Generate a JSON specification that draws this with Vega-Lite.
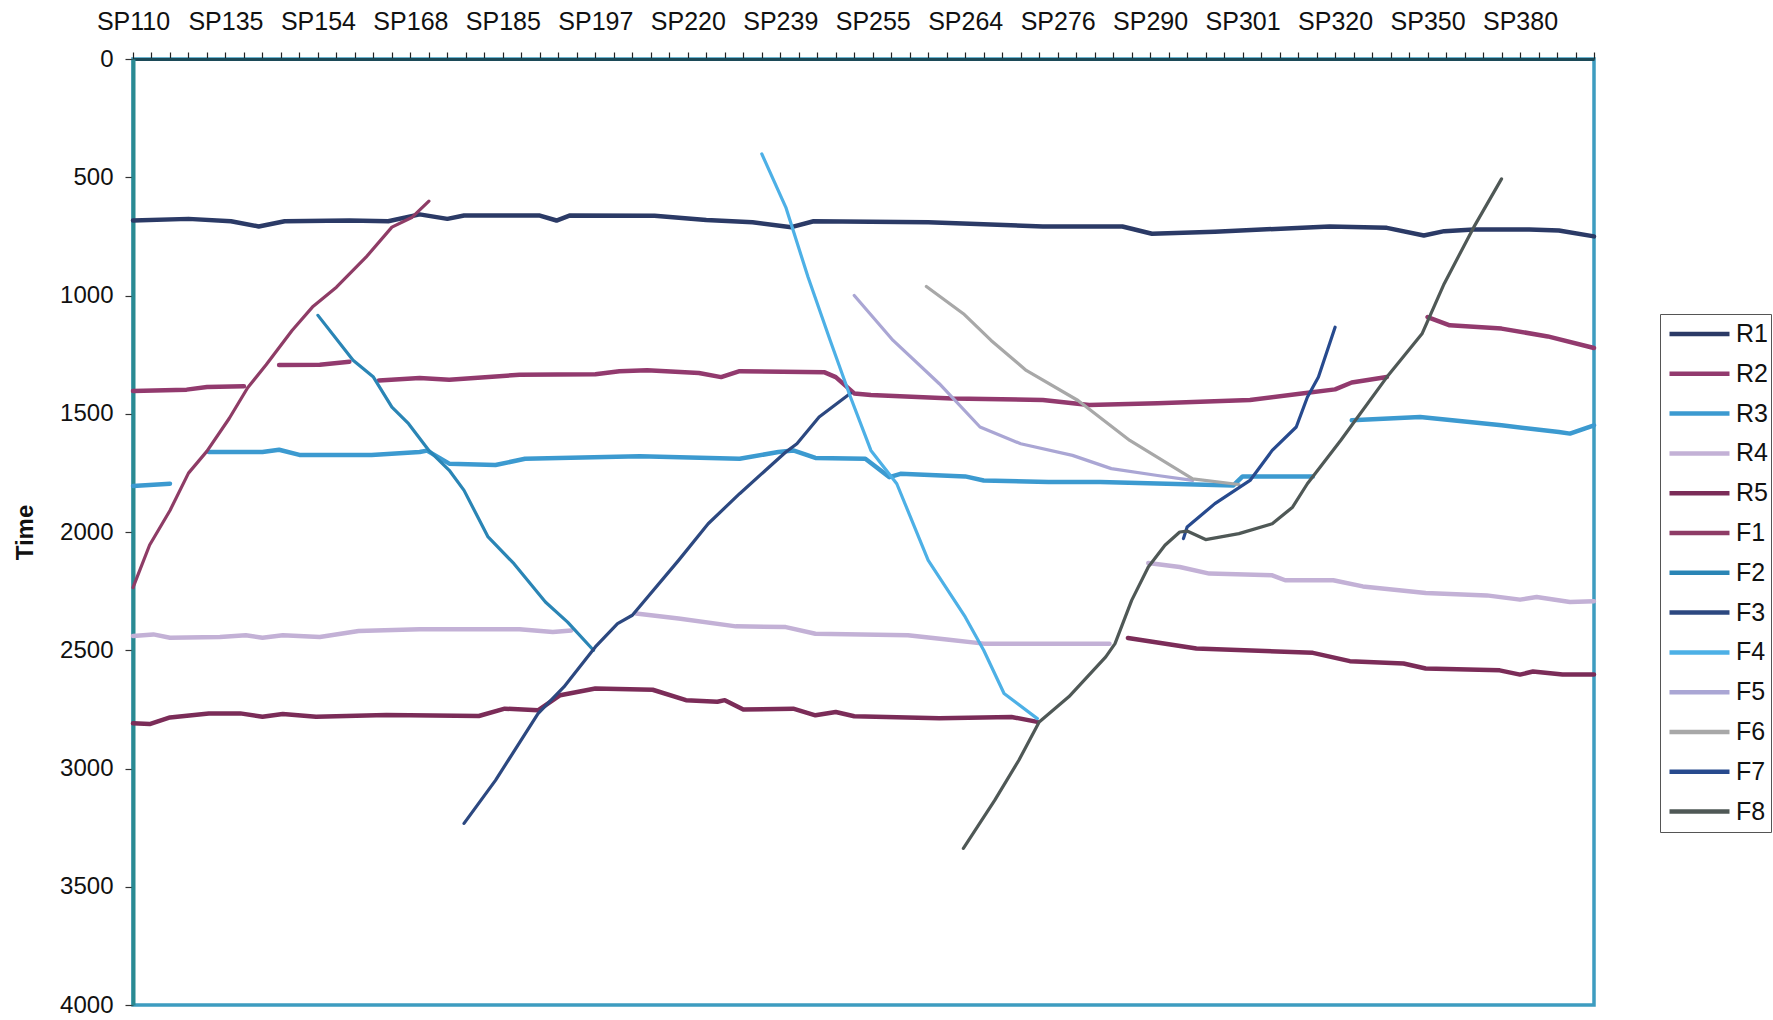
{
  "$schema": "https://vega.github.io/schema/vega-lite/v6.json",
  "width": 1461,
  "height": 946,
  "autosize": {"type": "none"},
  "padding": {"left": 133, "top": 59, "right": 179, "bottom": 15},
  "background": "white",
  "config": {
    "view": {"stroke": "#3d9cc0", "strokeWidth": 3.5},
    "font": "Liberation Sans"
  },
  "data": {"values": [
    {"s":"R1","g":0,"i":0,"t":683},{"s":"R1","g":0,"i":3.0,"t":676},{"s":"R1","g":0,"i":5.3,"t":686},{"s":"R1","g":0,"i":6.8,"t":708},{"s":"R1","g":0,"i":8.2,"t":686},{"s":"R1","g":0,"i":11.7,"t":683},{"s":"R1","g":0,"i":13.8,"t":686},{"s":"R1","g":0,"i":15.5,"t":657},{"s":"R1","g":0,"i":17.0,"t":676},{"s":"R1","g":0,"i":17.9,"t":662},{"s":"R1","g":0,"i":22.0,"t":662},{"s":"R1","g":0,"i":22.9,"t":683},{"s":"R1","g":0,"i":23.6,"t":662},{"s":"R1","g":0,"i":28.2,"t":663},{"s":"R1","g":0,"i":31.0,"t":681},{"s":"R1","g":0,"i":33.5,"t":690},{"s":"R1","g":0,"i":35.6,"t":711},{"s":"R1","g":0,"i":36.8,"t":686},{"s":"R1","g":0,"i":43.0,"t":690},{"s":"R1","g":0,"i":49.2,"t":708},{"s":"R1","g":0,"i":53.5,"t":708},{"s":"R1","g":0,"i":55.1,"t":739},{"s":"R1","g":0,"i":58.5,"t":730},{"s":"R1","g":0,"i":64.7,"t":708},{"s":"R1","g":0,"i":67.8,"t":714},{"s":"R1","g":0,"i":69.8,"t":746},{"s":"R1","g":0,"i":70.9,"t":728},{"s":"R1","g":0,"i":72.5,"t":721},{"s":"R1","g":0,"i":75.5,"t":721},{"s":"R1","g":0,"i":77.1,"t":725},{"s":"R1","g":0,"i":79,"t":750},

    {"s":"R2","g":0,"i":0,"t":1404},{"s":"R2","g":0,"i":2.9,"t":1398},{"s":"R2","g":0,"i":4.0,"t":1387},{"s":"R2","g":0,"i":6.0,"t":1384},
    {"s":"R2","g":1,"i":7.9,"t":1294},{"s":"R2","g":1,"i":10.1,"t":1293},{"s":"R2","g":1,"i":11.7,"t":1280},
    {"s":"R2","g":2,"i":13.3,"t":1359},{"s":"R2","g":2,"i":15.5,"t":1349},{"s":"R2","g":2,"i":17.1,"t":1356},{"s":"R2","g":2,"i":20.9,"t":1335},{"s":"R2","g":2,"i":25.0,"t":1333},{"s":"R2","g":2,"i":26.3,"t":1320},{"s":"R2","g":2,"i":27.8,"t":1316},{"s":"R2","g":2,"i":30.6,"t":1328},{"s":"R2","g":2,"i":31.8,"t":1345},{"s":"R2","g":2,"i":32.8,"t":1320},{"s":"R2","g":2,"i":37.4,"t":1325},{"s":"R2","g":2,"i":38.0,"t":1345},{"s":"R2","g":2,"i":39.0,"t":1414},{"s":"R2","g":2,"i":39.9,"t":1421},{"s":"R2","g":2,"i":44.3,"t":1435},{"s":"R2","g":2,"i":49.2,"t":1442},{"s":"R2","g":2,"i":51.7,"t":1463},{"s":"R2","g":2,"i":55.4,"t":1456},{"s":"R2","g":2,"i":60.4,"t":1442},{"s":"R2","g":2,"i":63.2,"t":1414},{"s":"R2","g":2,"i":65.0,"t":1397},{"s":"R2","g":2,"i":65.9,"t":1368},{"s":"R2","g":2,"i":67.8,"t":1345},
    {"s":"R2","g":3,"i":70.0,"t":1091},{"s":"R2","g":3,"i":71.2,"t":1126},{"s":"R2","g":3,"i":74.0,"t":1140},{"s":"R2","g":3,"i":76.5,"t":1173},{"s":"R2","g":3,"i":79,"t":1222},

    {"s":"R3","g":0,"i":0,"t":1805},{"s":"R3","g":0,"i":2.0,"t":1796},
    {"s":"R3","g":1,"i":4.1,"t":1662},{"s":"R3","g":1,"i":7.0,"t":1662},{"s":"R3","g":1,"i":7.9,"t":1652},{"s":"R3","g":1,"i":9.0,"t":1674},{"s":"R3","g":1,"i":12.9,"t":1674},{"s":"R3","g":1,"i":15.5,"t":1662},{"s":"R3","g":1,"i":15.9,"t":1656},{"s":"R3","g":1,"i":17.1,"t":1711},{"s":"R3","g":1,"i":19.6,"t":1717},{"s":"R3","g":1,"i":21.2,"t":1690},{"s":"R3","g":1,"i":27.4,"t":1680},{"s":"R3","g":1,"i":32.8,"t":1690},{"s":"R3","g":1,"i":34.9,"t":1662},{"s":"R3","g":1,"i":35.7,"t":1655},{"s":"R3","g":1,"i":36.9,"t":1687},{"s":"R3","g":1,"i":39.6,"t":1690},{"s":"R3","g":1,"i":40.9,"t":1768},{"s":"R3","g":1,"i":41.5,"t":1754},{"s":"R3","g":1,"i":45.0,"t":1765},{"s":"R3","g":1,"i":46.0,"t":1782},{"s":"R3","g":1,"i":49.5,"t":1789},{"s":"R3","g":1,"i":52.3,"t":1789},{"s":"R3","g":1,"i":59.5,"t":1803},{"s":"R3","g":1,"i":60.0,"t":1765},{"s":"R3","g":1,"i":63.8,"t":1765},
    {"s":"R3","g":2,"i":65.9,"t":1528},{"s":"R3","g":2,"i":69.6,"t":1514},{"s":"R3","g":2,"i":74.0,"t":1549},{"s":"R3","g":2,"i":77.1,"t":1577},{"s":"R3","g":2,"i":77.7,"t":1584},{"s":"R3","g":2,"i":79,"t":1549},

    {"s":"R4","g":0,"i":0,"t":2440},{"s":"R4","g":0,"i":1.1,"t":2433},{"s":"R4","g":0,"i":2.0,"t":2447},{"s":"R4","g":0,"i":4.7,"t":2444},{"s":"R4","g":0,"i":6.1,"t":2437},{"s":"R4","g":0,"i":7.0,"t":2447},{"s":"R4","g":0,"i":8.1,"t":2437},{"s":"R4","g":0,"i":10.1,"t":2444},{"s":"R4","g":0,"i":12.2,"t":2419},{"s":"R4","g":0,"i":15.5,"t":2411},{"s":"R4","g":0,"i":20.9,"t":2411},{"s":"R4","g":0,"i":22.7,"t":2423},{"s":"R4","g":0,"i":23.7,"t":2416},
    {"s":"R4","g":1,"i":27.2,"t":2345},{"s":"R4","g":1,"i":29.5,"t":2366},{"s":"R4","g":1,"i":32.6,"t":2399},{"s":"R4","g":1,"i":35.3,"t":2402},{"s":"R4","g":1,"i":36.9,"t":2430},{"s":"R4","g":1,"i":41.9,"t":2437},{"s":"R4","g":1,"i":44.0,"t":2455},{"s":"R4","g":1,"i":46.0,"t":2472},{"s":"R4","g":1,"i":49.5,"t":2472},{"s":"R4","g":1,"i":52.8,"t":2472},
    {"s":"R4","g":2,"i":54.9,"t":2131},{"s":"R4","g":2,"i":56.6,"t":2148},{"s":"R4","g":2,"i":58.2,"t":2176},{"s":"R4","g":2,"i":61.6,"t":2183},{"s":"R4","g":2,"i":62.3,"t":2204},{"s":"R4","g":2,"i":64.9,"t":2204},{"s":"R4","g":2,"i":66.5,"t":2230},{"s":"R4","g":2,"i":69.9,"t":2258},{"s":"R4","g":2,"i":73.2,"t":2268},{"s":"R4","g":2,"i":75.0,"t":2286},{"s":"R4","g":2,"i":75.9,"t":2275},{"s":"R4","g":2,"i":77.7,"t":2296},{"s":"R4","g":2,"i":79,"t":2293},

    {"s":"R5","g":0,"i":0,"t":2809},{"s":"R5","g":0,"i":0.9,"t":2812},{"s":"R5","g":0,"i":2.0,"t":2784},{"s":"R5","g":0,"i":4.1,"t":2767},{"s":"R5","g":0,"i":5.8,"t":2767},{"s":"R5","g":0,"i":7.0,"t":2781},{"s":"R5","g":0,"i":8.1,"t":2770},{"s":"R5","g":0,"i":9.9,"t":2781},{"s":"R5","g":0,"i":13.7,"t":2774},{"s":"R5","g":0,"i":18.7,"t":2778},{"s":"R5","g":0,"i":20.1,"t":2747},{"s":"R5","g":0,"i":21.9,"t":2754},{"s":"R5","g":0,"i":23.1,"t":2690},{"s":"R5","g":0,"i":25.0,"t":2662},{"s":"R5","g":0,"i":28.1,"t":2667},{"s":"R5","g":0,"i":29.9,"t":2711},{"s":"R5","g":0,"i":31.6,"t":2718},{"s":"R5","g":0,"i":32.0,"t":2711},{"s":"R5","g":0,"i":33.0,"t":2751},{"s":"R5","g":0,"i":35.7,"t":2747},{"s":"R5","g":0,"i":36.9,"t":2775},{"s":"R5","g":0,"i":38.0,"t":2761},{"s":"R5","g":0,"i":39.0,"t":2779},{"s":"R5","g":0,"i":43.6,"t":2787},{"s":"R5","g":0,"i":47.5,"t":2782},{"s":"R5","g":0,"i":48.9,"t":2803},
    {"s":"R5","g":1,"i":53.8,"t":2448},{"s":"R5","g":1,"i":57.5,"t":2493},{"s":"R5","g":1,"i":63.8,"t":2511},{"s":"R5","g":1,"i":65.8,"t":2546},{"s":"R5","g":1,"i":68.7,"t":2556},{"s":"R5","g":1,"i":69.9,"t":2577},{"s":"R5","g":1,"i":73.9,"t":2585},{"s":"R5","g":1,"i":75.0,"t":2603},{"s":"R5","g":1,"i":75.7,"t":2590},{"s":"R5","g":1,"i":77.3,"t":2603},{"s":"R5","g":1,"i":79,"t":2603},

    {"s":"F1","g":0,"i":0,"t":2235},{"s":"F1","g":0,"i":0.9,"t":2055},{"s":"F1","g":0,"i":2.0,"t":1909},{"s":"F1","g":0,"i":3.0,"t":1751},{"s":"F1","g":0,"i":4.0,"t":1658},{"s":"F1","g":0,"i":5.2,"t":1520},{"s":"F1","g":0,"i":6.2,"t":1390},{"s":"F1","g":0,"i":7.2,"t":1293},{"s":"F1","g":0,"i":8.6,"t":1148},{"s":"F1","g":0,"i":9.7,"t":1049},{"s":"F1","g":0,"i":11.0,"t":965},{"s":"F1","g":0,"i":12.6,"t":838},{"s":"F1","g":0,"i":14.0,"t":711},{"s":"F1","g":0,"i":15.1,"t":669},{"s":"F1","g":0,"i":16.0,"t":601},

    {"s":"F2","g":0,"i":10.0,"t":1084},{"s":"F2","g":0,"i":11.9,"t":1274},{"s":"F2","g":0,"i":13.0,"t":1345},{"s":"F2","g":0,"i":14.0,"t":1472},{"s":"F2","g":0,"i":14.9,"t":1542},{"s":"F2","g":0,"i":16.0,"t":1655},{"s":"F2","g":0,"i":17.1,"t":1739},{"s":"F2","g":0,"i":17.9,"t":1824},{"s":"F2","g":0,"i":19.2,"t":2021},{"s":"F2","g":0,"i":20.6,"t":2134},{"s":"F2","g":0,"i":22.3,"t":2296},{"s":"F2","g":0,"i":23.5,"t":2381},{"s":"F2","g":0,"i":24.9,"t":2500},

    {"s":"F3","g":0,"i":17.9,"t":3232},{"s":"F3","g":0,"i":19.6,"t":3050},{"s":"F3","g":0,"i":21.9,"t":2768},{"s":"F3","g":0,"i":23.3,"t":2655},{"s":"F3","g":0,"i":25.0,"t":2486},{"s":"F3","g":0,"i":26.2,"t":2387},{"s":"F3","g":0,"i":27.0,"t":2352},{"s":"F3","g":0,"i":29.5,"t":2120},{"s":"F3","g":0,"i":31.1,"t":1965},{"s":"F3","g":0,"i":32.8,"t":1838},{"s":"F3","g":0,"i":35.3,"t":1662},{"s":"F3","g":0,"i":35.9,"t":1627},{"s":"F3","g":0,"i":37.1,"t":1514},{"s":"F3","g":0,"i":38.8,"t":1413},

    {"s":"F4","g":0,"i":34.0,"t":401},{"s":"F4","g":0,"i":35.3,"t":627},{"s":"F4","g":0,"i":36.5,"t":922},{"s":"F4","g":0,"i":37.7,"t":1190},{"s":"F4","g":0,"i":38.8,"t":1430},{"s":"F4","g":0,"i":39.9,"t":1655},{"s":"F4","g":0,"i":41.3,"t":1796},{"s":"F4","g":0,"i":43.0,"t":2120},{"s":"F4","g":0,"i":45.0,"t":2359},{"s":"F4","g":0,"i":46.0,"t":2500},{"s":"F4","g":0,"i":47.1,"t":2683},{"s":"F4","g":0,"i":48.9,"t":2789},

    {"s":"F5","g":0,"i":39.0,"t":1000},{"s":"F5","g":0,"i":41.1,"t":1190},{"s":"F5","g":0,"i":43.6,"t":1373},{"s":"F5","g":0,"i":45.8,"t":1556},{"s":"F5","g":0,"i":48.0,"t":1627},{"s":"F5","g":0,"i":50.8,"t":1676},{"s":"F5","g":0,"i":52.9,"t":1732},{"s":"F5","g":0,"i":55.4,"t":1761},{"s":"F5","g":0,"i":57.3,"t":1782},

    {"s":"F6","g":0,"i":42.9,"t":962},{"s":"F6","g":0,"i":44.9,"t":1077},{"s":"F6","g":0,"i":46.4,"t":1190},{"s":"F6","g":0,"i":48.3,"t":1317},{"s":"F6","g":0,"i":51.1,"t":1444},{"s":"F6","g":0,"i":53.9,"t":1613},{"s":"F6","g":0,"i":57.3,"t":1775},{"s":"F6","g":0,"i":59.8,"t":1799},

    {"s":"F7","g":0,"i":56.8,"t":2028},{"s":"F7","g":0,"i":57.0,"t":1979},{"s":"F7","g":0,"i":58.5,"t":1880},{"s":"F7","g":0,"i":60.4,"t":1782},{"s":"F7","g":0,"i":61.6,"t":1655},{"s":"F7","g":0,"i":62.9,"t":1556},{"s":"F7","g":0,"i":63.5,"t":1430},{"s":"F7","g":0,"i":64.1,"t":1345},{"s":"F7","g":0,"i":65.0,"t":1134},

    {"s":"F8","g":0,"i":44.9,"t":3338},{"s":"F8","g":0,"i":46.6,"t":3134},{"s":"F8","g":0,"i":47.9,"t":2965},{"s":"F8","g":0,"i":49.0,"t":2803},{"s":"F8","g":0,"i":50.6,"t":2697},{"s":"F8","g":0,"i":52.6,"t":2528},{"s":"F8","g":0,"i":53.1,"t":2472},{"s":"F8","g":0,"i":54.0,"t":2289},{"s":"F8","g":0,"i":54.9,"t":2148},{"s":"F8","g":0,"i":55.8,"t":2056},{"s":"F8","g":0,"i":56.6,"t":2000},{"s":"F8","g":0,"i":57.0,"t":1996},{"s":"F8","g":0,"i":58.0,"t":2032},{"s":"F8","g":0,"i":59.8,"t":2007},{"s":"F8","g":0,"i":61.6,"t":1965},{"s":"F8","g":0,"i":62.7,"t":1895},{"s":"F8","g":0,"i":63.5,"t":1796},{"s":"F8","g":0,"i":65.3,"t":1613},{"s":"F8","g":0,"i":67.8,"t":1345},{"s":"F8","g":0,"i":69.7,"t":1162},{"s":"F8","g":0,"i":70.9,"t":950},{"s":"F8","g":0,"i":72.5,"t":711},{"s":"F8","g":0,"i":74.0,"t":507}
  ]},
  "encoding": {
    "x": {
      "field": "i", "type": "quantitative",
      "scale": {"domain": [0, 79], "nice": false, "zero": false},
      "axis": {
        "orient": "top", "title": null, "grid": false,
        "values": [0,1,2,3,4,5,6,7,8,9,10,11,12,13,14,15,16,17,18,19,20,21,22,23,24,25,26,27,28,29,30,31,32,33,34,35,36,37,38,39,40,41,42,43,44,45,46,47,48,49,50,51,52,53,54,55,56,57,58,59,60,61,62,63,64,65,66,67,68,69,70,71,72,73,74,75,76,77,78,79],
        "labelExpr": "(datum.value % 5 == 0 && datum.value <= 75) ? ['SP110','SP135','SP154','SP168','SP185','SP197','SP220','SP239','SP255','SP264','SP276','SP290','SP301','SP320','SP350','SP380'][datum.value / 5] : ''",
        "labelFlush": false, "labelOverlap": false, "labelBound": false,
        "labelFontSize": 25, "labelFont": "Liberation Sans", "labelColor": "#111111",
        "labelBaseline": "middle", "labelPadding": 31,
        "tickSize": 7, "tickColor": "#222222", "tickWidth": 1.2,
        "domainColor": "#1c4a58", "domainWidth": 3
      }
    },
    "y": {
      "field": "t", "type": "quantitative",
      "scale": {"domain": [0, 4000], "reverse": true, "nice": false, "zero": false},
      "axis": {
        "values": [0,500,1000,1500,2000,2500,3000,3500,4000],
        "format": "d",
        "title": "Time", "titleFont": "Liberation Sans", "titleFontSize": 24, "titleFontWeight": "bold", "titleColor": "#111111",
        "titleAngle": 270, "titleX": -108, "titleY": 473, "titleBaseline": "middle", "titleAlign": "center",
        "grid": false, "labelFontSize": 24, "labelFont": "Liberation Sans", "labelColor": "#111111",
        "labelFlush": false, "labelOverlap": false, "labelPadding": 12,
        "tickSize": 8, "tickColor": "#333333", "tickWidth": 1.2,
        "domainColor": "#2a8a92", "domainWidth": 4
      }
    },
    "color": {
      "field": "s", "type": "nominal",
      "scale": {
        "domain": ["R1","R2","R3","R4","R5","F1","F2","F3","F4","F5","F6","F7","F8"],
        "range": ["#2b3a66","#923a6e","#3c9ad0","#c3b1d6","#7b2c58","#8e3c66","#2a85b5","#2c4880","#4db0e6","#aaa6d4","#a8a8a8","#274a8e","#4f5856"]
      },
      "legend": {
        "orient": "none", "legendX": 1527, "legendY": 255, "title": null,
        "symbolType": "stroke", "symbolSize": 3600, "symbolStrokeWidth": 4.5, "symbolOffset": 4,
        "clipHeight": 34, "rowPadding": 5.8,
        "labelFontSize": 25, "labelFont": "Liberation Sans", "labelColor": "#111111", "labelOffset": 4,
        "strokeColor": "#555555", "fillColor": "white", "padding": 3
      }
    },
    "detail": {"field": "g", "type": "nominal"}
  },
  "layer": [
    {
      "transform": [{"filter": "indexof(datum.s, 'R') == 0"}],
      "mark": {"type": "line", "strokeWidth": 4.5, "strokeCap": "round", "strokeJoin": "round"}
    },
    {
      "transform": [{"filter": "indexof(datum.s, 'F') == 0"}],
      "mark": {"type": "line", "strokeWidth": 3.2, "strokeCap": "round", "strokeJoin": "round"}
    }
  ]
}
